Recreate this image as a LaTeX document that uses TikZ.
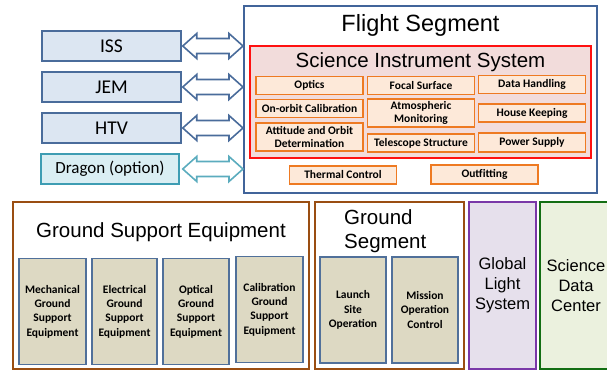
\documentclass[tikz,border=0pt]{standalone}
\usepackage{fontspec}
\setmainfont{Carlito}
\newfontfamily\arialfont{Liberation Sans}
\usetikzlibrary{positioning,calc}
\definecolor{craftline}{HTML}{4A6C9B}
\definecolor{craftfill}{HTML}{DCE6F2}
\definecolor{dragonline}{HTML}{3E9DB3}
\definecolor{dragonfill}{HTML}{DAEEF3}
\definecolor{fsline}{HTML}{41649A}
\definecolor{sisline}{HTML}{FF1010}
\definecolor{sisfill}{HTML}{F2DCDB}
\definecolor{partline}{HTML}{EE7A22}
\definecolor{partfill}{HTML}{FDE9D9}
\definecolor{gseline}{HTML}{9A4E12}
\definecolor{equipline}{HTML}{50709A}
\definecolor{equipfill}{HTML}{DDD9C3}
\definecolor{glsline}{HTML}{7A38A8}
\definecolor{glsfill}{HTML}{E6E0EC}
\definecolor{sdcline}{HTML}{136E13}
\definecolor{sdcfill}{HTML}{EBF1DE}

\begin{document}
\begin{tikzpicture}[x=1pt,y=-1pt]
\tikzstyle{every node}+=[inner sep=0pt, align=center, text=black]
\tikzstyle{craft}=[draw=craftline, fill=craftfill, line width=1.5pt, minimum width=139pt, minimum height=30pt, font=\fontsize{19.5}{22}\selectfont]
\tikzstyle{part}=[draw=partline, fill=partfill, line width=1.5pt, minimum width=107pt, minimum height=18pt, font=\bfseries\fontsize{11.5}{13}\selectfont]
\tikzstyle{equip}=[draw=equipline, fill=equipfill, line width=1.5pt, minimum width=66pt, minimum height=106pt, font=\bfseries\fontsize{11.5}{14.3}\selectfont]
\tikzstyle{segment}=[line width=2.2pt, minimum height=167pt]
\tikzstyle{heading}=[font=\arialfont\fontsize{20.5}{24.6}\selectfont]
\tikzstyle{blockarrow}=[draw=craftline, fill=white, line width=1.6pt, line join=miter,
  to path={let \p1=(\tikztostart), \p2=(\tikztotarget) in
  (\x1,\y1) -- (\x1+14pt,\y1+12.5pt) -- (\x1+14pt,\y1+7.5pt) -- (\x2-14pt,\y1+7.5pt)
  -- (\x2-14pt,\y1+12.5pt) -- (\x2,\y1) -- (\x2-14pt,\y1-12.5pt) -- (\x2-14pt,\y1-7.5pt)
  -- (\x1+14pt,\y1-7.5pt) -- (\x1+14pt,\y1-12.5pt) -- cycle}]
\useasboundingbox (0,0) rectangle (607,370);

\node [draw=fsline, fill=white, line width=2pt, minimum width=353pt, minimum height=187pt] (fs) at (420.5,99.5) {};
\node [font=\arialfont\fontsize{23.5}{26}\selectfont] (fstitle) at (420.5,25) {Flight Segment};
\node [draw=sisline, fill=sisfill, line width=1.5pt, minimum width=341pt, minimum height=112pt] (sis) at (420.5,102) {};
\node [heading] (sistitle) at (420.5,62) {Science Instrument System};
\node [part] (optics) at (309.5,85.5) {Optics};
\node [part] (focal) at (421,85.5) {Focal Surface};
\node [part] (datah) at (532,84.5) {Data Handling};
\node [part] (onorbit) at (309.5,108.5) {On-orbit Calibration};
\node [part, minimum height=28pt] (atmos) at (421,113) {Atmospheric\\Monitoring};
\node [part] (house) at (532,113) {House Keeping};
\node [part, minimum height=28pt] (attitude) at (309.5,137) {Attitude and Orbit\\Determination};
\node [part] (telescope) at (421,143) {Telescope Structure};
\node [part, minimum height=19pt] (power) at (532,142.5) {Power Supply};
\node [part] (thermal) at (343,175) {Thermal Control};
\node [part, minimum height=19pt] (outfit) at (484.5,174.5) {Outfitting};

\node [craft] (iss) at (111.5,46) {ISS};
\node [craft] (jem) at (111.5,87) {JEM};
\node [craft] (htv) at (111.5,128) {HTV};
\node [craft, draw=dragonline, fill=dragonfill, minimum width=138pt, font=\fontsize{17}{20}\selectfont] (dragon) at (110,169) {Dragon (option)};
\draw [blockarrow] ([xshift=1pt]iss.east) to (fs.west |- iss.east);
\draw [blockarrow] ([xshift=1pt]jem.east) to (fs.west |- jem.east);
\draw [blockarrow] ([xshift=1pt]htv.east) to (fs.west |- htv.east);
\draw [blockarrow, draw=dragonline!85] ([xshift=3pt]dragon.east) to ([yshift=-1pt]fs.west |- dragon.east);

\node [segment, draw=gseline, fill=white, minimum width=296pt] (gse) at (161,285.5) {};
\node [heading] (gsetitle) at (161,232) {Ground Support Equipment};
\node [equip, minimum width=67pt] (mech) at (52.5,311.5) {Mechanical\\Ground\\Support\\Equipment};
\node [equip, minimum width=65pt] (elec) at (124.5,311.5) {Electrical\\Ground\\Support\\Equipment};
\node [equip] (opt) at (196,311.5) {Optical\\Ground\\Support\\Equipment};
\node [equip, minimum width=67pt] (calib) at (269.5,309.5) {Calibration\\Ground\\Support\\Equipment};

\node [segment, draw=gseline, fill=white, minimum width=149pt] (gseg) at (389.5,285.5) {};
\node [heading, anchor=west, align=left] (gsegtitle) at (344,231) {Ground\\Segment};
\node [equip] (launch) at (353,310) {Launch\\Site\\Operation};
\node [equip] (mission) at (425,310) {Mission\\Operation\\Control};

\node [segment, draw=glsline, fill=glsfill, minimum width=67pt, font=\arialfont\fontsize{16.5}{20}\selectfont] (gls) at (502.5,285.5) {Global\\Light\\System};
\node [segment, draw=sdcline, fill=sdcfill, minimum width=72pt, font=\arialfont\fontsize{16.5}{20}\selectfont] (sdc) at (576,285.5) {Science\\Data\\Center};
\end{tikzpicture}
\end{document}
